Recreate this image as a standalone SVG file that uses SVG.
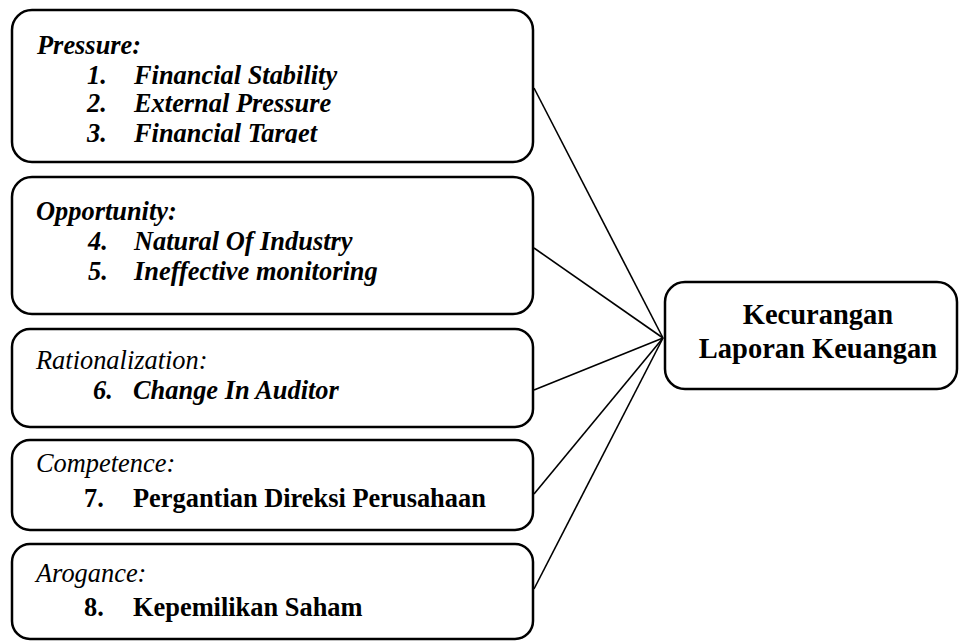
<svg xmlns="http://www.w3.org/2000/svg" width="960" height="641" viewBox="0 0 960 641" font-family="'Liberation Serif', 'DejaVu Serif', serif">
<style>
.box{fill:#fff;stroke:#000;stroke-width:2.5}
.t{font-family:'Liberation Serif','DejaVu Serif',serif;fill:#000;font-size:26.4px}
.bi{font-weight:bold;font-style:italic}
.i{font-style:italic}
.b{font-weight:bold}
.c{font-size:28.5px;font-weight:bold;text-anchor:middle}
#connectors line{stroke:#000;stroke-width:1.6}
</style>
<defs>
<clipPath id="clip1"><rect x="0" y="0" width="540" height="143"/></clipPath>
</defs>
<rect width="960" height="641" fill="#fff"/>
<g id="connectors">
<line x1="534" y1="88" x2="663" y2="338"/>
<line x1="534" y1="248" x2="663" y2="338"/>
<line x1="534" y1="390" x2="663" y2="338"/>
<line x1="534" y1="494" x2="663" y2="338"/>
<line x1="534" y1="589" x2="663" y2="338"/>
</g>
<g id="pressure">
<rect class="box" x="12" y="10" width="521" height="152" rx="20"/>
<text class="t bi" x="37" y="54">Pressure:</text>
<text class="t bi" x="87" y="84">1.</text><text class="t bi" x="134" y="84">Financial Stability</text>
<text class="t bi" x="87" y="112">2.</text><text class="t bi" x="134" y="112">External Pressure</text>
<g clip-path="url(#clip1)"><text class="t bi" x="87" y="142">3.</text><text class="t bi" x="134" y="142">Financial Target</text></g>
</g>
<g id="opportunity">
<rect class="box" x="12" y="177" width="521" height="137" rx="20"/>
<text class="t bi" x="36" y="220">Opportunity:</text>
<text class="t bi" x="88" y="250">4.</text><text class="t bi" x="134" y="250">Natural Of Industry</text>
<text class="t bi" x="88" y="280">5.</text><text class="t bi" x="134" y="280">Ineffective monitoring</text>
</g>
<g id="rationalization">
<rect class="box" x="12" y="329" width="521" height="98" rx="18"/>
<text class="t i" x="36" y="369">Rationalization:</text>
<text class="t bi" x="93" y="399">6.</text><text class="t bi" x="133" y="399">Change In Auditor</text>
</g>
<g id="competence">
<rect class="box" x="12" y="440" width="521" height="90" rx="18"/>
<text class="t i" x="36" y="472">Competence:</text>
<text class="t b" x="84" y="507">7.</text><text class="t b" x="133" y="507">Pergantian Direksi Perusahaan</text>
</g>
<g id="arogance">
<rect class="box" x="12" y="544" width="521" height="95" rx="18"/>
<text class="t i" x="36" y="582">Arogance:</text>
<text class="t b" x="84" y="616">8.</text><text class="t b" x="133" y="616">Kepemilikan Saham</text>
</g>
<g id="kecurangan">
<rect class="box" x="665" y="282" width="292" height="107" rx="20"/>
<text class="t c" x="818" y="324">Kecurangan</text>
<text class="t c" x="818" y="358">Laporan Keuangan</text>
</g>
</svg>
